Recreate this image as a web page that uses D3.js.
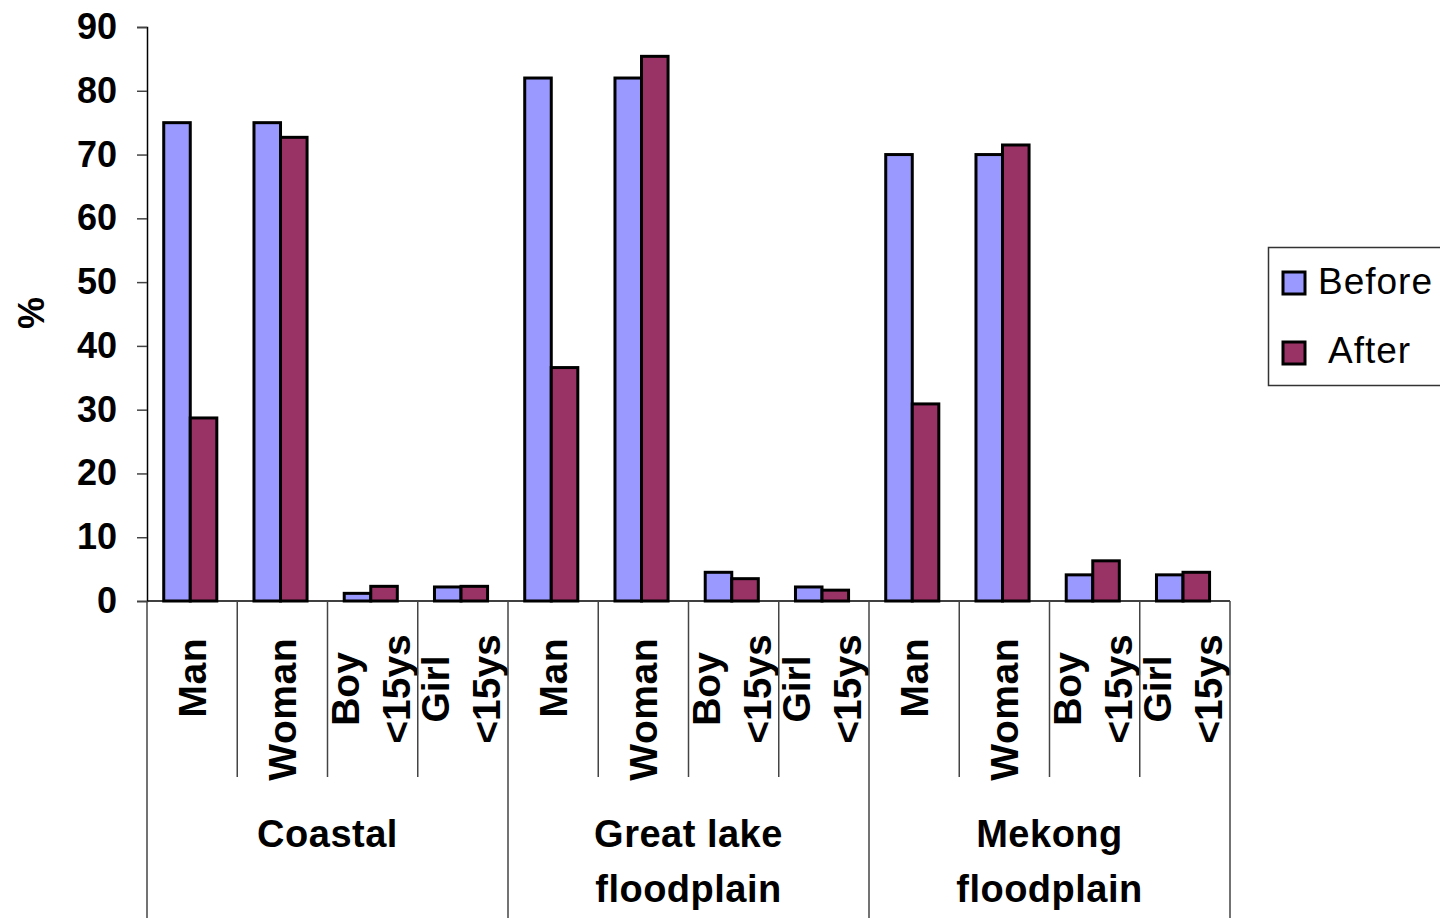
<!DOCTYPE html>
<html>
<head>
<meta charset="utf-8">
<script src="https://cdn.jsdelivr.net/npm/d3@7"></script>
<style>
  body { margin: 0; background: #fff; }
  svg { display: block; font-family: "Liberation Sans", Arial, sans-serif; }
</style>
</head>
<body>
<div id="chart"></div>
<script>
// values
const groups = ['Coastal', 'Great lake|floodplain', 'Mekong|floodplain'];
const people = ['Man', 'Woman', 'Boy|<15ys', 'Girl|<15ys'];
const series = ['Before', 'After'];
const before = [75, 75, 1.2, 2.2, 82, 82, 4.5, 2.2, 70, 70, 4.1, 4.1];
const after = [28.7, 72.7, 2.3, 2.3, 36.6, 85.4, 3.5, 1.7, 30.9, 71.5, 6.3, 4.5];
const yTicks = [0, 10, 20, 30, 40, 50, 60, 70, 80, 90];

const colors = { Before: '#9999FF', After: '#993366' };

const W = 1440, H = 918;
const plotLeft = 147, plotRight = 1230, plotTop = 27, plotBase = 601;

// one row per category (group x person)
const rows = [];
groups.forEach((g, gi) => {
  people.forEach((p, pi) => {
    const i = gi * people.length + pi;
    rows.push({ key: i, group: g, person: p, Before: before[i], After: after[i] });
  });
});

const svg = d3.select('#chart').append('svg')
  .attr('width', W)
  .attr('height', H);

const x0 = d3.scaleBand()
  .domain(rows.map(d => d.key))
  .range([plotLeft, plotRight]);

const xg = d3.scaleBand()
  .domain(groups)
  .range([plotLeft, plotRight]);

const x1 = d3.scaleBand()
  .domain(series)
  .range([0, x0.bandwidth()])
  .paddingOuter(0.7)
  .align(0.45);

const y = d3.scaleLinear()
  .domain([0, 90])
  .range([plotBase, plotTop]);

// bars
const cat = svg.append('g').selectAll('g')
  .data(rows)
  .join('g')
  .attr('transform', d => `translate(${x0(d.key)},0)`);

cat.selectAll('rect')
  .data(d => series.map(s => ({ s, v: d[s] })))
  .join('rect')
  .attr('x', d => x1(d.s))
  .attr('width', x1.bandwidth())
  .attr('y', d => y(d.v))
  .attr('height', d => y(0) - y(d.v))
  .style('fill', d => colors[d.s])
  .style('stroke', 'black')
  .style('stroke-width', 3);

// y axis
const yAxis = svg.append('g')
  .attr('transform', `translate(${plotLeft},0)`)
  .call(d3.axisLeft(y).tickValues(yTicks).tickSize(10).tickPadding(20));
yAxis.select('.domain').attr('stroke', 'black').attr('stroke-width', 1.5);
yAxis.selectAll('.tick line').attr('stroke', '#444').attr('stroke-width', 1.5);
yAxis.selectAll('.tick text')
  .style('font-size', '36px')
  .style('font-weight', 'bold')
  .style('fill', 'black');

svg.append('text')
  .attr('transform', `translate(44,313) rotate(-90)`)
  .attr('text-anchor', 'middle')
  .style('font-size', '36px')
  .style('font-weight', 'bold')
  .text('%');

// x axis line
svg.append('line')
  .attr('x1', plotLeft).attr('x2', plotRight)
  .attr('y1', y(0)).attr('y2', y(0))
  .attr('stroke', 'black')
  .attr('stroke-width', 1.5);

// separators between categories (short) and groups (long)
const bounds = d3.range(rows.length + 1);
svg.append('g').selectAll('line')
  .data(bounds)
  .join('line')
  .attr('x1', i => plotLeft + i * x0.step())
  .attr('x2', i => plotLeft + i * x0.step())
  .attr('y1', y(0))
  .attr('y2', i => i % people.length === 0 ? H : 777)
  .attr('stroke', '#444')
  .attr('stroke-width', 1.5);

// rotated category labels
cat.each(function (d) {
  const lines = d.person.split('|');
  const cx = x0.bandwidth() / 2;
  const g = d3.select(this);
  if (lines.length === 1) {
    g.append('text')
      .attr('transform', `translate(${cx + 14},638) rotate(-90)`)
      .attr('text-anchor', 'end')
      .style('font-size', '39px')
      .style('font-weight', 'bold')
      .style('letter-spacing', '0.5px')
      .text(lines[0]);
  } else {
    lines.forEach((t, li) => {
      g.append('text')
        .attr('transform', `translate(${cx - 14 + li * 51},689) rotate(-90)`)
        .attr('text-anchor', 'middle')
        .style('font-size', '39px')
        .style('font-weight', 'bold')
        .text(t);
    });
  }
});

// group labels
svg.append('g').selectAll('text')
  .data(groups)
  .join('text')
  .attr('x', g => xg(g) + xg.bandwidth() / 2)
  .attr('y', 847)
  .attr('text-anchor', 'middle')
  .style('font-size', '38px')
  .style('font-weight', 'bold')
  .style('letter-spacing', '0.5px')
  .selectAll('tspan')
  .data(g => g.split('|'))
  .join('tspan')
  .attr('x', function () { return d3.select(this.parentNode).attr('x'); })
  .attr('dy', (t, i) => i === 0 ? 0 : 55)
  .text(t => t);

// legend
const legend = svg.append('g');
legend.append('rect')
  .attr('x', 1268.5).attr('y', 247.5)
  .attr('width', 200).attr('height', 138)
  .attr('fill', 'white')
  .attr('stroke', '#333')
  .attr('stroke-width', 1.5);

const legendRows = [
  { s: 'Before', label: 'Before', sy: 272, tx: 1318, ty: 294 },
  { s: 'After', label: 'After', sy: 342, tx: 1328, ty: 363 }
];

legend.selectAll('rect.key')
  .data(legendRows)
  .join('rect')
  .attr('class', 'key')
  .attr('x', 1283).attr('y', d => d.sy)
  .attr('width', 22).attr('height', 22)
  .style('fill', d => colors[d.s])
  .style('stroke', 'black')
  .style('stroke-width', 3);

legend.selectAll('text')
  .data(legendRows)
  .join('text')
  .attr('x', d => d.tx)
  .attr('y', d => d.ty)
  .style('font-size', '37px')
  .style('letter-spacing', '1px')
  .text(d => d.label);
</script>
</body>
</html>
